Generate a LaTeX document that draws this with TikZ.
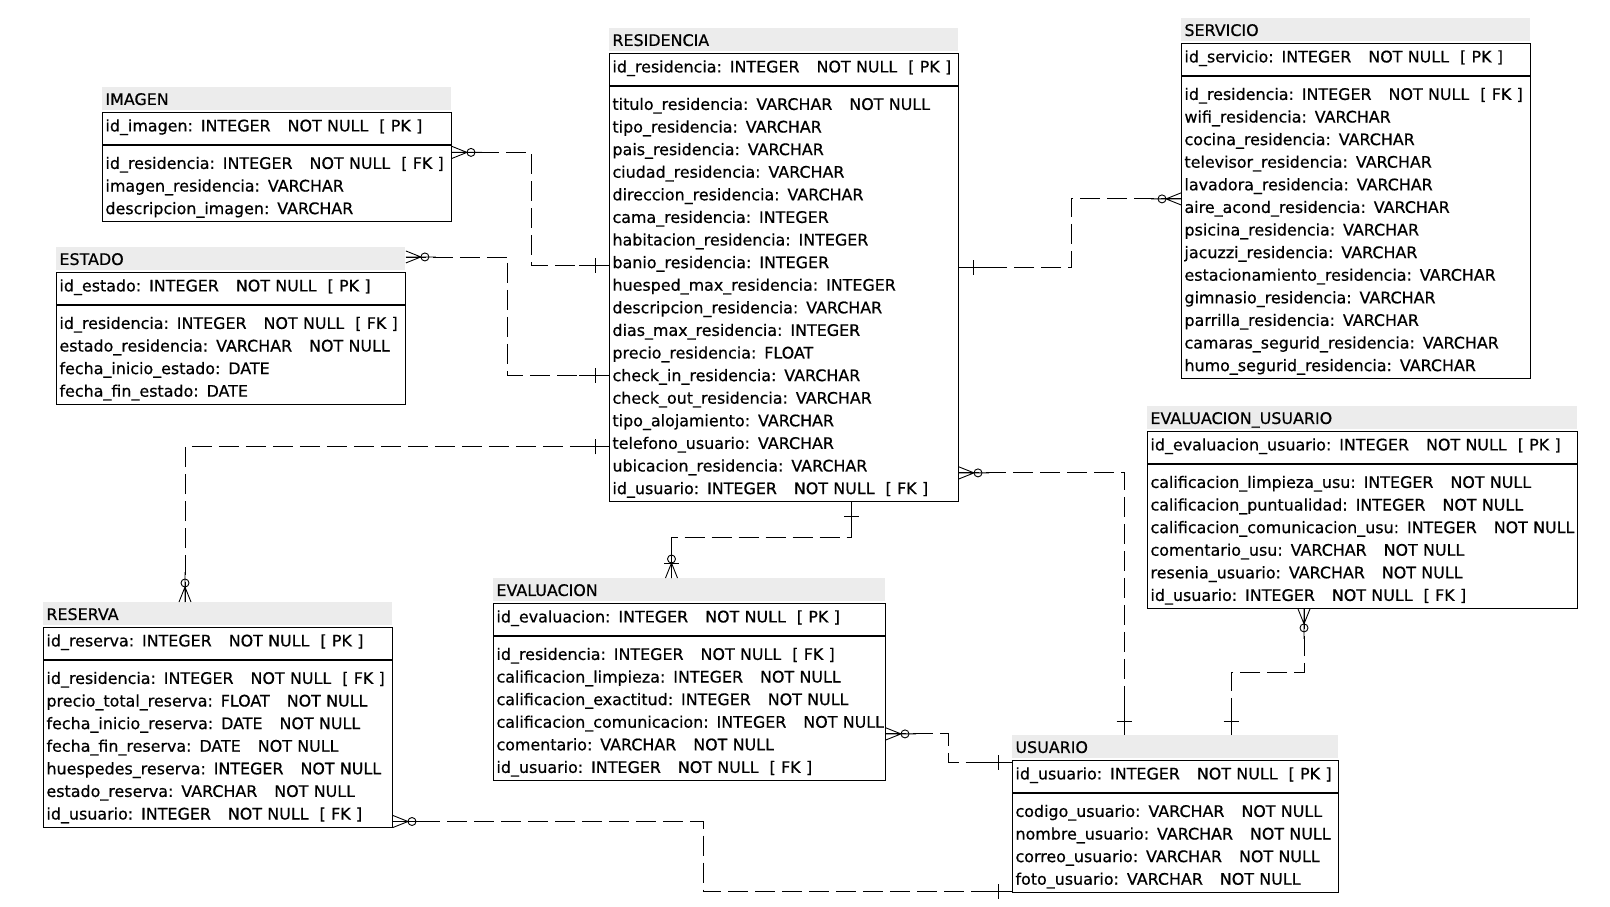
\documentclass[tikz,border=0pt]{standalone}
\usepackage{fontspec}
\setmainfont{DejaVu Sans}[FakeBold=0.6]
\usetikzlibrary{positioning}

\definecolor{cabecera}{HTML}{ECECEC}

% filas de una tabla, sin cortes de linea
\newcommand{\filas}[1]{\begin{tabular}[t]{@{}l@{}}#1\end{tabular}}
\newcommand{\nnull}{\hspace{17pt}NOT NULL}
\newcommand{\clpk}{\hspace{11pt}[ PK ]}
\newcommand{\clfk}{\hspace{11pt}[ FK ]}

\tikzset{
  tabla/.style={fill=cabecera, anchor=north west, inner xsep=3pt, inner ysep=0pt,
    text height=17.5pt, text depth=5.5pt},
  clave/.style={draw, line width=1pt, inner xsep=3pt, inner ysep=0pt,
    text height=18.5pt, text depth=13.5pt},
  campos/.style={draw, line width=1pt, inner xsep=3pt, inner ysep=0pt,
    text height=23pt},
  rel/.style={dash pattern=on 20pt off 7pt},
  uno/.pic={
    \draw[solid] (0,0) -- (30,0);
    \draw[solid] (14,-7.5) -- (14,7.5);
  },
  muchos/.pic={
    \draw[solid] (0,-6) -- (15,0) -- (0,6) (0,0) -- (30,0);
    \draw[solid] (19,0) circle (4pt);
  },
  muchosb/.pic={
    \draw[solid] (0,-6) -- (15,0) -- (0,6) (0,0) -- (30,0);
    \draw[solid] (15,-7.5) -- (15,7.5);
    \draw[solid] (19,0) circle (4pt);
  },
}

\begin{document}
\begin{tikzpicture}[x=1pt, y=-1pt, line width=0.9pt,
    font=\fontsize{15.9pt}{22.6pt}\selectfont]
\useasboundingbox (0,0) rectangle (1610,907);

% IMAGEN
\node[tabla, text width=343pt] (imagen) at (102,87) {IMAGEN};
\node[clave, text width=343pt, below right=1.5pt and 0pt of imagen.south west] (imagen-pk)
  {\filas{id\_imagen: INTEGER\nnull\clpk}};
\node[campos, text width=343pt, text depth=52.7pt, below right=0pt and 0pt of imagen-pk.south west] (imagen-cols)
  {\filas{id\_residencia: INTEGER\nnull\clfk\\
   imagen\_residencia: VARCHAR\\
   descripcion\_imagen: VARCHAR}};

% ESTADO
\node[tabla, text width=343pt] (estado) at (56,247) {ESTADO};
\node[clave, text width=343pt, below right=1.5pt and 0pt of estado.south west] (estado-pk)
  {\filas{id\_estado: INTEGER\nnull\clpk}};
\node[campos, text width=343pt, text depth=75.3pt, below right=0pt and 0pt of estado-pk.south west] (estado-cols)
  {\filas{id\_residencia: INTEGER\nnull\clfk\\
   estado\_residencia: VARCHAR\nnull\\
   fecha\_inicio\_estado: DATE\\
   fecha\_fin\_estado: DATE}};

% RESIDENCIA
\node[tabla, text width=343pt] (residencia) at (609,28) {RESIDENCIA};
\node[clave, text width=343pt, below right=1.5pt and 0pt of residencia.south west] (residencia-pk)
  {\filas{id\_residencia: INTEGER\nnull\clpk}};
\node[campos, text width=343pt, text depth=391.7pt, below right=0pt and 0pt of residencia-pk.south west] (residencia-cols)
  {\filas{titulo\_residencia: VARCHAR\nnull\\
   tipo\_residencia: VARCHAR\\
   pais\_residencia: VARCHAR\\
   ciudad\_residencia: VARCHAR\\
   direccion\_residencia: VARCHAR\\
   cama\_residencia: INTEGER\\
   habitacion\_residencia: INTEGER\\
   banio\_residencia: INTEGER\\
   huesped\_max\_residencia: INTEGER\\
   descripcion\_residencia: VARCHAR\\
   dias\_max\_residencia: INTEGER\\
   precio\_residencia: FLOAT\\
   check\_in\_residencia: VARCHAR\\
   check\_out\_residencia: VARCHAR\\
   tipo\_alojamiento: VARCHAR\\
   telefono\_usuario: VARCHAR\\
   ubicacion\_residencia: VARCHAR\\
   id\_usuario: INTEGER\nnull\clfk}};

% SERVICIO
\node[tabla, text width=343pt] (servicio) at (1181,18) {SERVICIO};
\node[clave, text width=343pt, below right=1.5pt and 0pt of servicio.south west] (servicio-pk)
  {\filas{id\_servicio: INTEGER\nnull\clpk}};
\node[campos, text width=343pt, text depth=278.7pt, below right=0pt and 0pt of servicio-pk.south west] (servicio-cols)
  {\filas{id\_residencia: INTEGER\nnull\clfk\\
   wifi\_residencia: VARCHAR\\
   cocina\_residencia: VARCHAR\\
   televisor\_residencia: VARCHAR\\
   lavadora\_residencia: VARCHAR\\
   aire\_acond\_residencia: VARCHAR\\
   psicina\_residencia: VARCHAR\\
   jacuzzi\_residencia: VARCHAR\\
   estacionamiento\_residencia: VARCHAR\\
   gimnasio\_residencia: VARCHAR\\
   parrilla\_residencia: VARCHAR\\
   camaras\_segurid\_residencia: VARCHAR\\
   humo\_segurid\_residencia: VARCHAR}};

% EVALUACION_USUARIO
\node[tabla, text width=424pt] (evalusu) at (1147,406) {EVALUACION\_USUARIO};
\node[clave, text width=424pt, below right=1.5pt and 0pt of evalusu.south west] (evalusu-pk)
  {\filas{id\_evaluacion\_usuario: INTEGER\nnull\clpk}};
\node[campos, text width=424pt, text depth=120.5pt, below right=0pt and 0pt of evalusu-pk.south west] (evalusu-cols)
  {\filas{calificacion\_limpieza\_usu: INTEGER\nnull\\
   calificacion\_puntualidad: INTEGER\nnull\\
   calificacion\_comunicacion\_usu: INTEGER\nnull\\
   comentario\_usu: VARCHAR\nnull\\
   resenia\_usuario: VARCHAR\nnull\\
   id\_usuario: INTEGER\nnull\clfk}};

% USUARIO
\node[tabla, text width=320pt] (usuario) at (1012,735) {USUARIO};
\node[clave, text width=320pt, below right=1.5pt and 0pt of usuario.south west] (usuario-pk)
  {\filas{id\_usuario: INTEGER\nnull\clpk}};
\node[campos, text width=320pt, text depth=75.3pt, below right=0pt and 0pt of usuario-pk.south west] (usuario-cols)
  {\filas{codigo\_usuario: VARCHAR\nnull\\
   nombre\_usuario: VARCHAR\nnull\\
   correo\_usuario: VARCHAR\nnull\\
   foto\_usuario: VARCHAR\nnull}};

% EVALUACION
\node[tabla, text width=386pt] (evaluacion) at (493,578) {EVALUACION};
\node[clave, text width=386pt, below right=1.5pt and 0pt of evaluacion.south west] (evaluacion-pk)
  {\filas{id\_evaluacion: INTEGER\nnull\clpk}};
\node[campos, text width=386pt, text depth=120.5pt, below right=0pt and 0pt of evaluacion-pk.south west] (evaluacion-cols)
  {\filas{id\_residencia: INTEGER\nnull\clfk\\
   calificacion\_limpieza: INTEGER\nnull\\
   calificacion\_exactitud: INTEGER\nnull\\
   calificacion\_comunicacion: INTEGER\nnull\\
   comentario: VARCHAR\nnull\\
   id\_usuario: INTEGER\nnull\clfk}};

% RESERVA
\node[tabla, text width=343pt] (reserva) at (43,602) {RESERVA};
\node[clave, text width=343pt, below right=1.5pt and 0pt of reserva.south west] (reserva-pk)
  {\filas{id\_reserva: INTEGER\nnull\clpk}};
\node[campos, text width=343pt, text depth=143.1pt, below right=0pt and 0pt of reserva-pk.south west] (reserva-cols)
  {\filas{id\_residencia: INTEGER\nnull\clfk\\
   precio\_total\_reserva: FLOAT\nnull\\
   fecha\_inicio\_reserva: DATE\nnull\\
   fecha\_fin\_reserva: DATE\nnull\\
   huespedes\_reserva: INTEGER\nnull\\
   estado\_reserva: VARCHAR\nnull\\
   id\_usuario: INTEGER\nnull\clfk}};

% relaciones
\draw[rel] ([yshift=-7pt]imagen-cols.north east) pic{muchos} -- ++(79,0)
  |- ([yshift=-179pt]residencia-cols.north west) pic[rotate=180]{uno};
\draw[rel] ([yshift=2pt]estado.east) pic{muchos} -- ++(102,0)
  |- ([yshift=-289pt]residencia-cols.north west) pic[rotate=180]{uno};
\draw[rel] ([xshift=142pt]reserva.north west) pic[rotate=90]{muchos}
  |- ([yshift=-360.5pt]residencia-cols.north west) pic[rotate=180]{uno};
\draw[rel] ([yshift=-122.5pt]servicio-cols.north west) pic[rotate=180]{muchos} -- ++(-110,0)
  |- ([yshift=-181.5pt]residencia-cols.north east) pic{uno};
\draw[rel] ([xshift=178.5pt]evaluacion.north west) pic[rotate=90]{muchosb} -- ++(0,-41)
  -| ([xshift=242pt]residencia-cols.south west) pic[rotate=-90]{uno};
\draw[rel] ([yshift=-386.5pt]residencia-cols.north east) pic{muchos}
  -| ([xshift=112pt]usuario.north west) pic[rotate=90]{uno};
\draw[rel] ([xshift=157pt]evalusu-cols.south west) pic[rotate=-90]{muchos} -- ++(0,64)
  -| ([xshift=219pt]usuario.north west) pic[rotate=90]{uno};
\draw[rel] ([yshift=-97.5pt]evaluacion-cols.north east) pic{muchos} -- ++(62,0)
  |- ([yshift=-2pt]usuario-pk.north west) pic[rotate=180]{uno};
\draw[rel] ([yshift=6pt]reserva-cols.south east) pic{muchos} -- ++(310,0)
  |- ([yshift=1.5pt]usuario-cols.south west) pic[rotate=180]{uno};
\end{tikzpicture}
\end{document}
